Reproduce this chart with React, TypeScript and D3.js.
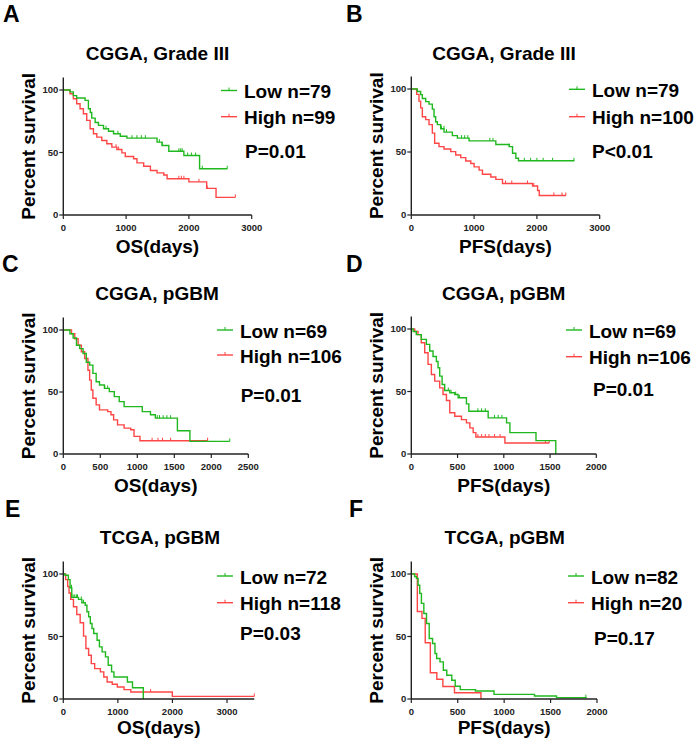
import React from "react";
import * as d3 from "d3";

type Pt = [number, number];

// ---------- Data (time in days, percent survival after step) ----------
const aLow: Pt[] = [[0,100],[107,98.5],[160,95.5],[213,93.6],[347,91.7],[400,85],[430,82],[453,77.5],[507,74],[560,71.7],[640,69],[720,67],[800,65],[907,63],[1013,61.5],[1493,58.3],[1573,55.6],[1680,51],[1920,47.6],[2170,37],[2613,37]];
const aHigh: Pt[] = [[0,100],[107,97],[160,93],[213,89],[267,85],[320,81],[373,75.7],[427,69],[480,65],[533,62.3],[613,59.6],[693,57],[773,54.3],[853,52.4],[933,49.7],[987,46.8],[1120,45],[1173,41.7],[1280,39],[1387,35.6],[1493,33.7],[1600,32],[1653,29],[2000,26.5],[2283,21.3],[2432,14.1],[2740,14.1]];
const aLowCens = [680,800,870,1093,1173,1243,1307,1530,1573,1840,1870,1893,1980,2040,2107,2213,2610];
const aHighCens = [840,880,1840,1880,1920,2160,2290,2740];

const bLow: Pt[] = [[0,100],[96,98],[149,95.5],[176,92.5],[229,90],[282,88],[335,84],[362,78],[388,74],[415,71.7],[468,68.4],[521,65.8],[654,63],[734,61],[920,58.8],[1346,56],[1559,54.3],[1612,49],[1665,45],[1707,43],[2596,43]];
const bHigh: Pt[] = [[0,100],[85,95.7],[122,90.4],[149,85],[176,78],[229,75.7],[282,71.7],[335,65],[372,57],[441,54.3],[521,52.4],[628,50.3],[707,47.6],[787,45.5],[867,42.8],[947,40.9],[1000,38.2],[1080,35.6],[1133,32.4],[1266,30.2],[1346,28.3],[1452,25],[1931,23],[2011,19.5],[2037,15.5],[2463,15.5]];
const bLowCens = [480,520,560,800,850,900,1250,1300,1560,1800,1900,2000,2100,2250,2590];
const bHighCens = [1500,1600,1850,1950,2270,2400,2460];

const cLow: Pt[] = [[0,100],[89,97],[133,93.6],[178,87.7],[222,85],[267,81],[311,74],[356,71.7],[400,65],[444,58.3],[489,55.6],[556,52.9],[622,50.3],[689,46.3],[756,42.2],[822,38.2],[1067,34.2],[1178,31.6],[1244,28.9],[1542,18.7],[1711,10.2],[2250,10.2]];
const cHigh: Pt[] = [[0,100],[111,97],[155,93],[200,87.7],[244,82.4],[289,77],[333,67.6],[356,59.6],[378,51.6],[400,45],[444,39.6],[489,35.6],[600,34.2],[644,31.6],[680,27.5],[733,23.5],[822,20.9],[911,19.5],[956,14.2],[1036,10.7],[1950,10.7]];
const cLowCens = [560,600,1270,1300,1350,1400,1450,2250];
const cHighCens = [1200,1280,1340,1450,1950];

const dLow: Pt[] = [[0,100],[20,98],[54,95.5],[108,91.7],[163,87.7],[199,82.4],[235,78],[271,74],[289,69],[307,62.3],[333,55.6],[361,50.8],[416,49],[470,47.6],[506,45],[596,40.1],[622,34.2],[831,28.9],[1030,24.9],[1066,17.1],[1348,10.7],[1562,0]];
const dHigh: Pt[] = [[0,100],[36,98],[72,95.5],[108,89],[145,81],[181,71.7],[217,63.6],[253,58.3],[307,52.9],[343,47.6],[380,42.8],[416,33],[470,30.2],[542,27.5],[596,24.9],[633,20.9],[669,17.1],[698,13.6],[1012,8.8],[1493,8.8]];
const dLowCens = [400,430,480,520,720,760,800,900,940,980];
const dHighCens = [720,760,800,840,900,960,1450,1490];

const eLow: Pt[] = [[0,100],[31,99],[93,95.5],[124,89],[155,81.3],[278,79.7],[340,77],[402,75],[433,69.8],[464,65.8],[495,60.4],[526,56.4],[557,52.4],[619,47],[662,41.7],[711,37.7],[773,33.7],[823,27],[885,21.7],[928,17.6],[1175,13.6],[1268,9],[1466,0]];
const eHigh: Pt[] = [[0,100],[43,95.5],[80,90],[105,84.8],[136,79.7],[186,73.8],[247,67.6],[309,61],[371,50.3],[414,40.4],[464,35],[513,28.3],[575,24.3],[680,21.7],[742,17.6],[804,13.6],[897,11.8],[990,9.6],[1113,7.5],[1237,5.6],[1998,2.1],[3500,2.1]];
const eLowCens = [150,180,210,240,260,330,370];
const eHighCens = [1600,3500];

const fLow: Pt[] = [[0,100],[36,98],[55,96.5],[73,91],[91,84.5],[109,76.5],[135,68.4],[164,60.4],[193,48.4],[229,44.4],[255,36.4],[273,32.4],[309,29.7],[345,23],[382,19],[436,15],[473,10.2],[527,7.5],[691,6.4],[891,3.7],[1327,2.4],[1564,1.1],[1890,1.1]];
const fHigh: Pt[] = [[0,100],[65,70],[115,64.5],[150,45],[205,21],[275,15.8],[340,10],[465,5],[750,0]];
const fLowCens = [1880];
const fHighCens: number[] = [];

const yTicks = [0, 50, 100];
const ticks3000 = [0, 1000, 2000, 3000];
const ticks2500 = [0, 500, 1000, 1500, 2000, 2500];
const ticks2000 = [0, 500, 1000, 1500, 2000];

const GREEN = "#1fb81f";
const RED = "#ff4646";
const FONT = "'Liberation Sans', Arial, Helvetica, sans-serif";

type Cfg = {
  letter: string; lx: number; ly: number;
  title: string; tx: number; ty: number;
  xLabel: string; xlY: number;
  x0: number; xRef: number; xRefPx: number; xMax: number; ticks: number[];
  y0: number; y100: number;
  low: Pt[]; high: Pt[]; lowC: number[]; highC: number[];
  lowTxt: string; highTxt: string; pTxt: string;
  legX: number; lowY: number; highY: number; pX: number; pY: number;
};

const panels: Cfg[] = [
  { letter: "A", lx: 3, ly: 22, title: "CGGA, Grade III", tx: 157.5, ty: 60, xLabel: "OS(days)", xlY: 253,
    x0: 63.3, xRef: 3000, xRefPx: 251.7, xMax: 3000, ticks: ticks3000, y0: 215, y100: 90,
    low: aLow, high: aHigh, lowC: aLowCens, highC: aHighCens, lowTxt: "Low n=79", highTxt: "High n=99", pTxt: "P=0.01",
    legX: 221, lowY: 90.5, highY: 116.7, pX: 245, pY: 158 },
  { letter: "B", lx: 346, ly: 22, title: "CGGA, Grade III", tx: 504, ty: 60, xLabel: "PFS(days)", xlY: 253,
    x0: 411.3, xRef: 3000, xRefPx: 599.7, xMax: 3000, ticks: ticks3000, y0: 215, y100: 89,
    low: bLow, high: bHigh, lowC: bLowCens, highC: bHighCens, lowTxt: "Low n=79", highTxt: "High n=100", pTxt: "P<0.01",
    legX: 569, lowY: 89.3, highY: 116.7, pX: 592, pY: 158.3 },
  { letter: "C", lx: 2, ly: 272, title: "CGGA, pGBM", tx: 157, ty: 300, xLabel: "OS(days)", xlY: 492,
    x0: 63.3, xRef: 2500, xRefPx: 248.3, xMax: 2500, ticks: ticks2500, y0: 454, y100: 330,
    low: cLow, high: cHigh, lowC: cLowCens, highC: cHighCens, lowTxt: "Low n=69", highTxt: "High n=106", pTxt: "P=0.01",
    legX: 217, lowY: 330, highY: 355, pX: 240.7, pY: 401.7 },
  { letter: "D", lx: 346, ly: 272, title: "CGGA, pGBM", tx: 503.7, ty: 300, xLabel: "PFS(days)", xlY: 492,
    x0: 411.3, xRef: 2000, xRefPx: 596.3, xMax: 2000, ticks: ticks2000, y0: 454, y100: 329,
    low: dLow, high: dHigh, lowC: dLowCens, highC: dHighCens, lowTxt: "Low n=69", highTxt: "High n=106", pTxt: "P=0.01",
    legX: 566, lowY: 330, highY: 356.7, pX: 593, pY: 396 },
  { letter: "E", lx: 5, ly: 517, title: "TCGA, pGBM", tx: 160, ty: 544, xLabel: "OS(days)", xlY: 734,
    x0: 63.3, xRef: 3000, xRefPx: 227, xMax: 3500, ticks: ticks3000, y0: 699, y100: 574,
    low: eLow, high: eHigh, lowC: eLowCens, highC: eHighCens, lowTxt: "Low n=72", highTxt: "High n=118", pTxt: "P=0.03",
    legX: 217, lowY: 576, highY: 602.7, pX: 240, pY: 640 },
  { letter: "F", lx: 349, ly: 517, title: "TCGA, pGBM", tx: 504.7, ty: 544, xLabel: "PFS(days)", xlY: 734,
    x0: 411.3, xRef: 2000, xRefPx: 597, xMax: 2000, ticks: ticks2000, y0: 699, y100: 574,
    low: fLow, high: fHigh, lowC: fLowCens, highC: fHighCens, lowTxt: "Low n=82", highTxt: "High n=20", pTxt: "P=0.17",
    legX: 568, lowY: 576, highY: 602.7, pX: 594, pY: 645 },
];

function survAt(steps: Pt[], t: number): number {
  let s = steps[0][1];
  for (const p of steps) { if (p[0] <= t) s = p[1]; else break; }
  return s;
}

function Panel({ c }: { c: Cfg }) {
  const x = d3.scaleLinear().domain([0, c.xRef]).range([c.x0, c.xRefPx]);
  const y = d3.scaleLinear().domain([0, 100]).range([c.y0, c.y100]);
  const line = d3.line<Pt>().x(d => x(d[0])).y(d => y(d[1])).curve(d3.curveStepAfter);
  const yTop = y(110);
  const xEnd = x(c.xMax);
  const midY = (c.y0 + yTop) / 2;
  const series = [
    { steps: c.high, cens: c.highC, color: RED },
    { steps: c.low, cens: c.lowC, color: GREEN },
  ];
  const tickFont = { fontFamily: FONT, fontWeight: 700, fontSize: 9.5, fill: "#222" } as const;
  const bigFont = { fontFamily: FONT, fontWeight: 700, fontSize: 19, fill: "#000" } as const;
  return (
    <g>
      <text x={c.lx} y={c.ly} style={{ fontFamily: FONT, fontWeight: 700, fontSize: 23, fill: "#000" }}>{c.letter}</text>
      <text x={c.tx} y={c.ty} textAnchor="middle" style={bigFont}>{c.title}</text>
      <text transform={`translate(${c.x0 - 28},${midY}) rotate(-90)`} textAnchor="middle" style={bigFont}>Percent survival</text>
      <text x={(c.x0 + xEnd) / 2} y={c.xlY} textAnchor="middle" style={bigFont}>{c.xLabel}</text>
      {series.map((s, i) => (
        <g key={i}>
          <path d={line(s.steps) || ""} fill="none" stroke={s.color} strokeWidth={1.4} />
          {s.cens.map((t, j) => {
            const cx = x(t), cy = y(survAt(s.steps, t));
            return <line key={j} x1={cx} x2={cx} y1={cy - 3} y2={cy} stroke={s.color} strokeWidth={1} />;
          })}
        </g>
      ))}
      {/* axes */}
      <line x1={c.x0} x2={c.x0} y1={yTop} y2={c.y0} stroke="#222" strokeWidth={1.4} />
      <line x1={c.x0} x2={xEnd} y1={c.y0} y2={c.y0} stroke="#222" strokeWidth={1.4} />
      {yTicks.map(v => (
        <g key={v}>
          <line x1={c.x0 - 4} x2={c.x0} y1={y(v)} y2={y(v)} stroke="#222" strokeWidth={1.2} />
          <text x={c.x0 - 5} y={y(v) + 3.3} textAnchor="end" style={tickFont}>{v}</text>
        </g>
      ))}
      {c.ticks.map(v => (
        <g key={v}>
          <line x1={x(v)} x2={x(v)} y1={c.y0} y2={c.y0 + 4} stroke="#222" strokeWidth={1.2} />
          <text x={x(v)} y={c.y0 + 16.3} textAnchor="middle" style={tickFont}>{v}</text>
        </g>
      ))}
      {/* legend */}
      {[{ yy: c.lowY, col: GREEN, txt: c.lowTxt }, { yy: c.highY, col: RED, txt: c.highTxt }].map((l, i) => (
        <g key={i}>
          <line x1={c.legX} x2={c.legX + 16} y1={l.yy} y2={l.yy} stroke={l.col} strokeWidth={1.4} />
          <line x1={c.legX + 8} x2={c.legX + 8} y1={l.yy - 3} y2={l.yy} stroke={l.col} strokeWidth={1} />
          <text x={c.legX + 23} y={l.yy + 7.5} style={bigFont}>{l.txt}</text>
        </g>
      ))}
      <text x={c.pX} y={c.pY} style={bigFont}>{c.pTxt}</text>
    </g>
  );
}

export default function App() {
  return (
    <svg width={697} height={742} style={{ position: "absolute", left: 0, top: 0, background: "#fff" }}>
      <rect x={0} y={0} width={697} height={742} fill="#fff" />
      {panels.map((p, i) => <Panel key={i} c={p} />)}
    </svg>
  );
}
